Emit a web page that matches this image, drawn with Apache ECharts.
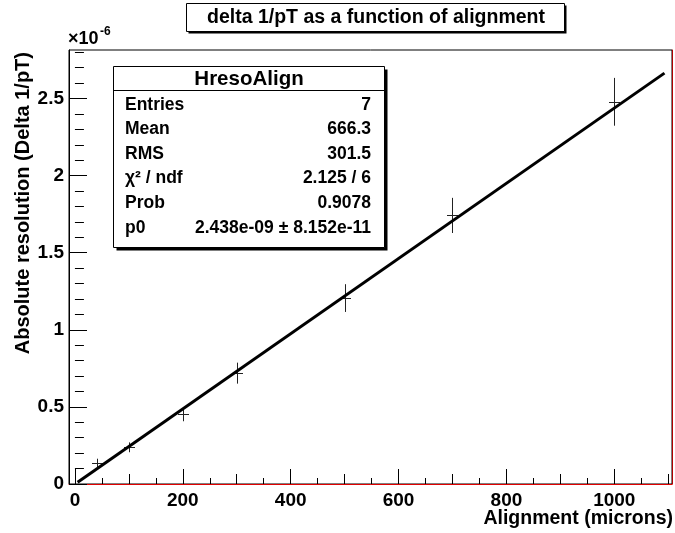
<!DOCTYPE html>
<html>
<head>
<meta charset="utf-8">
<script src="https://cdn.jsdelivr.net/npm/echarts@6.0.0/dist/echarts.min.js"></script>
<style>
  html, body { margin: 0; padding: 0; background: #fff; }
  #chart { width: 675px; height: 533px; }
</style>
</head>
<body>
<div id="chart"></div>
<script>
// measured points (y in units of 1e-6)
var xValues = [40, 100, 200, 300, 500, 700, 1000];
var yValues = [0.134, 0.238, 0.452, 0.719, 1.206, 1.742, 2.479];
var yErrors = [0.03, 0.032, 0.045, 0.068, 0.09, 0.114, 0.155];

// fitted line p0 * x, end points
var fitLine = [[5, 0.012], [1093, 2.665]];

var xMajorTicks = [0, 200, 400, 600, 800, 1000];
var xMidTicks = [100, 300, 500, 700, 900, 1100];
var xMinorTicks = [50, 150, 250, 350, 450, 550, 650, 750, 850, 950, 1050];
var yMajorTicks = [0, 0.5, 1, 1.5, 2, 2.5];
var yMinorTicks = [0.1, 0.2, 0.3, 0.4, 0.6, 0.7, 0.8, 0.9, 1.1, 1.2, 1.3, 1.4,
                   1.6, 1.7, 1.8, 1.9, 2.1, 2.2, 2.3, 2.4, 2.6, 2.7, 2.8];

var titleText = 'delta 1/pT as a function of alignment';
var xTitle = 'Alignment (microns)';
var yTitle = 'Absolute resolution (Delta 1/pT)';
var statsName = 'HresoAlign';
var statsLabels = ['Entries', 'Mean', 'RMS', 'χ² / ndf', 'Prob', 'p0'];
var statsValues = ['7', '666.3', '301.5', '2.125 / 6', '0.9078', '2.438e-09 ± 8.152e-11'];

var FONT = "'Liberation Sans', Arial, Helvetica, sans-serif";
var xMin = -11, xMax = 1107;
var yMin = 0, yMax = 2.815;

var chart = echarts.init(document.getElementById('chart'));

var plainNumber = function(v){ return String(v); };

var hiddenAxis = function(extra){
    var a = {
        type: 'value', gridIndex: 0,
        splitLine: {show: false},
        axisLine: {show: false},
        axisLabel: {show: false},
        axisTick: {show: false}
    };
    for (var k in extra) a[k] = extra[k];
    return a;
};

var tickAxisX = function(values, len){
    return hiddenAxis({
        min: xMin, max: xMax, position: 'bottom',
        axisTick: {show: true, inside: true, length: len, customValues: values,
                   lineStyle: {color: '#000', width: 1}}
    });
};
var tickAxisY = function(values, len){
    return hiddenAxis({
        min: yMin, max: yMax, position: 'left',
        axisTick: {show: true, inside: true, length: len, customValues: values,
                   lineStyle: {color: '#000', width: 1}}
    });
};

var xAxes = [
    hiddenAxis({
        min: xMin, max: xMax, position: 'bottom',
        axisLine: {show: true, onZero: false, lineStyle: {color: '#e00000', width: 1}},
        axisTick: {show: true, inside: true, length: 15, customValues: xMajorTicks,
                   lineStyle: {color: '#000', width: 1}},
        axisLabel: {show: true, customValues: xMajorTicks, margin: 7, formatter: plainNumber,
                    color: '#000', fontFamily: FONT, fontWeight: 'bold', fontSize: 19}
    }),
    tickAxisX(xMidTicks, 10),
    tickAxisX(xMinorTicks, 6)
];

var yAxes = [
    hiddenAxis({
        min: yMin, max: yMax, position: 'left',
        axisLine: {show: true, onZero: false, lineStyle: {color: '#000', width: 1}},
        axisTick: {show: true, inside: true, length: 18, customValues: yMajorTicks,
                   lineStyle: {color: '#000', width: 1}},
        axisLabel: {show: true, customValues: yMajorTicks, margin: 5, formatter: plainNumber,
                    color: '#000', fontFamily: FONT, fontWeight: 'bold', fontSize: 19}
    }),
    tickAxisY(yMinorTicks, 9),
    hiddenAxis({
        min: yMin, max: yMax, position: 'right',
        axisLine: {show: true, onZero: false, lineStyle: {color: '#b00000', width: 1}}
    })
];

var pointData = xValues.map(function(x, i){ return [x, yValues[i], yErrors[i]]; });

// stats box pieces
var statsChildren = [
    {type: 'rect', shape: {x: 116.5, y: 69.5, width: 271, height: 181}, style: {fill: '#000'}},
    {type: 'rect', shape: {x: 113.5, y: 66.5, width: 271, height: 181},
     style: {fill: '#fff', stroke: '#000', lineWidth: 1}},
    {type: 'line', shape: {x1: 113.5, y1: 90.5, x2: 384.5, y2: 90.5}, style: {stroke: '#000', lineWidth: 1}},
    {type: 'text', x: 249, y: 79,
     style: {text: statsName, font: 'bold 20.5px ' + FONT, fill: '#000', align: 'center', verticalAlign: 'middle'}}
];
var rowY = [105, 129.5, 154, 178.5, 203, 228];
statsLabels.forEach(function(lab, i){
    statsChildren.push({type: 'text', x: 125, y: rowY[i],
        style: {text: lab, font: 'bold 17.5px ' + FONT, fill: '#000', align: 'left', verticalAlign: 'middle'}});
    statsChildren.push({type: 'text', x: 371, y: rowY[i],
        style: {text: statsValues[i], font: 'bold 17.5px ' + FONT, fill: '#000', align: 'right', verticalAlign: 'middle'}});
});

var option = {
    backgroundColor: '#fff',
    animation: false,
    grid: {left: 69, top: 50, right: 3, bottom: 49, show: true,
           borderColor: '#000', borderWidth: 1, backgroundColor: 'transparent'},
    xAxis: xAxes,
    yAxis: yAxes,
    series: [
        {
            type: 'custom',
            xAxisIndex: 0, yAxisIndex: 0,
            data: pointData,
            z: 3,
            renderItem: function(params, api){
                var x = api.value(0), y = api.value(1), e = api.value(2);
                var c = api.coord([x, y]);
                var top = api.coord([x, y + e]);
                var bot = api.coord([x, y - e]);
                var px = Math.round(c[0]) + 0.5, py = Math.round(c[1]) + 0.5;
                return {type: 'group', children: [
                    {type: 'line', shape: {x1: px, y1: top[1], x2: px, y2: bot[1]},
                     style: {stroke: '#222', lineWidth: 1}},
                    {type: 'line', shape: {x1: px - 5.5, y1: py, x2: px + 5.5, y2: py},
                     style: {stroke: '#222', lineWidth: 1}}
                ]};
            }
        },
        {
            type: 'line',
            xAxisIndex: 0, yAxisIndex: 0,
            data: fitLine,
            showSymbol: false,
            z: 4,
            lineStyle: {color: '#000', width: 3}
        }
    ],
    graphic: [
        // title box
        {type: 'rect', shape: {x: 188.5, y: 5.5, width: 378, height: 28}, style: {fill: '#000'}, z: 10},
        {type: 'rect', shape: {x: 186.5, y: 3.5, width: 378, height: 28},
         style: {fill: '#fff', stroke: '#000', lineWidth: 1}, z: 11},
        {type: 'text', x: 376, y: 18, z: 12,
         style: {text: titleText, font: 'bold 19.5px ' + FONT, fill: '#000', align: 'center', verticalAlign: 'middle'}},
        // exponent
        {type: 'text', x: 68, y: 39, z: 12,
         style: {text: '×10', font: 'bold 18px ' + FONT, fill: '#000', align: 'left', verticalAlign: 'middle'}},
        {type: 'text', x: 100, y: 32, z: 12,
         style: {text: '-6', font: 'bold 12px ' + FONT, fill: '#000', align: 'left', verticalAlign: 'middle'}},
        // axis titles
        {type: 'text', x: 673, y: 519, z: 12,
         style: {text: xTitle, font: 'bold 19.5px ' + FONT, fill: '#000', align: 'right', verticalAlign: 'middle'}},
        {type: 'text', x: 23, y: 52, rotation: Math.PI / 2, z: 12,
         style: {text: yTitle, font: 'bold 20px ' + FONT, fill: '#000', align: 'right', verticalAlign: 'middle'}},
        {type: 'group', z: 12, children: statsChildren}
    ]
};

chart.setOption(option);
</script>
</body>
</html>
